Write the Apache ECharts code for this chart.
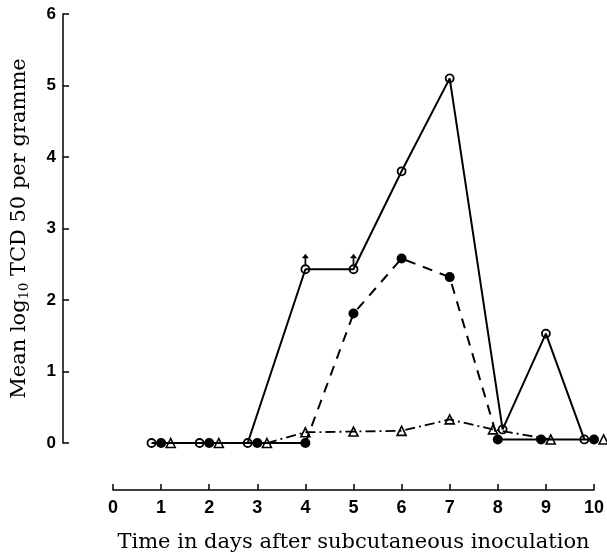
<!DOCTYPE html>
<html><head><meta charset="utf-8">
<script src="https://cdn.jsdelivr.net/npm/echarts@6/dist/echarts.min.js"></script>
<style>html,body{margin:0;padding:0;background:#fff}#c{width:607px;height:558px}</style>
</head><body><div id="c"></div>
<script>
// Open circles (solid line)
const openX = [0.8, 1.8, 2.8, 4, 5, 6, 7, 8.1, 9, 9.8];
const openY = [0, 0, 0, 2.43, 2.43, 3.8, 5.1, 0.19, 1.53, 0.05];
// Filled circles (dashed line during rise)
const filledX = [1, 2, 3, 4, 5, 6, 7, 8, 8.9, 10];
const filledY = [0, 0, 0, 0, 1.81, 2.58, 2.32, 0.05, 0.05, 0.05];
// Open triangles (dash-dot line)
const triX = [1.2, 2.2, 3.2, 4, 5, 6, 7, 7.9, 9.1, 10.2];
const triY = [0, 0, 0, 0.15, 0.16, 0.17, 0.33, 0.19, 0.05, 0.05];
// Open-circle points marked with "greater than" arrows
const arrowIdx = [3, 4];
const xTicks = [0, 1, 2, 3, 4, 5, 6, 7, 8, 9, 10];
const yTicks = [0, 1, 2, 3, 4, 5, 6];

const pts = (xs, ys, a, b) => xs.map((x, i) => [x, ys[i]]).slice(a, b);
const black = '#000';
const lineBase = { type: 'line', symbol: 'none', clip: false, silent: true, animation: false };

const chart = echarts.init(document.getElementById('c'));
chart.setOption({
  animation: false,
  grid: { left: 113, right: 12, top: 14, bottom: 114 },
  xAxis: {
    type: 'value', min: xTicks[0], max: xTicks[xTicks.length - 1], interval: 1, offset: 47,
    axisLine: { onZero: false, lineStyle: { color: black, width: 1.5 } },
    axisTick: { inside: true, length: 6, lineStyle: { color: black, width: 1.5 } },
    splitLine: { show: false },
    axisLabel: { color: black, fontWeight: 'bold', fontSize: 18, fontFamily: 'Liberation Sans', margin: 9 },
    name: 'Time in days after subcutaneous inoculation', nameLocation: 'middle', nameGap: 42,
    nameTextStyle: { color: black, fontSize: 21, fontFamily: 'DejaVu Serif' }
  },
  yAxis: {
    type: 'value', min: yTicks[0], max: yTicks[yTicks.length - 1], interval: 1, offset: 50,
    axisLine: { show: true, onZero: false, lineStyle: { color: black, width: 1.5 } },
    axisTick: { show: true, inside: true, length: 6, lineStyle: { color: black, width: 1.5 } },
    splitLine: { show: false },
    axisLabel: { color: black, fontWeight: 'bold', fontSize: 17, fontFamily: 'Liberation Sans', margin: 7 },
    name: '{a|Mean log}{s|10}{a| TCD 50 per gramme}', nameLocation: 'middle', nameGap: 32,
    nameTextStyle: {
      rich: {
        a: { color: black, fontSize: 21, fontFamily: 'DejaVu Serif' },
        s: { color: black, fontSize: 13, fontFamily: 'DejaVu Serif', padding: [10, 0, 0, 0] }
      }
    }
  },
  series: [
    Object.assign({}, lineBase, { data: pts(filledX, filledY, 0, 4), lineStyle: { color: black, width: 2 } }),
    Object.assign({}, lineBase, { data: pts(filledX, filledY, 3, 8), lineStyle: { color: black, width: 2, type: [10, 8] } }),
    Object.assign({}, lineBase, { data: pts(filledX, filledY, 7, 10), lineStyle: { color: black, width: 2 } }),
    Object.assign({}, lineBase, { data: pts(triX, triY, 2, 9), lineStyle: { color: black, width: 1.8, type: [10, 4, 2, 4] } }),
    Object.assign({}, lineBase, { data: pts(openX, openY, 0, 10), lineStyle: { color: black, width: 2 } }),
    { type: 'scatter', clip: false, silent: true, data: pts(filledX, filledY, 0, 10), symbol: 'circle', symbolSize: 10,
      itemStyle: { color: black, opacity: 1 } },
    { type: 'scatter', clip: false, silent: true, data: pts(triX, triY, 0, 10), symbol: 'triangle', symbolSize: 9,
      itemStyle: { color: '#fff', borderColor: black, borderWidth: 1.6, opacity: 1 } },
    { type: 'scatter', clip: false, silent: true, data: pts(openX, openY, 0, 10), symbol: 'circle', symbolSize: 8,
      itemStyle: { color: '#fff', borderColor: black, borderWidth: 1.8, opacity: 1 } },
    { type: 'scatter', clip: false, silent: true, data: arrowIdx.map(i => [openX[i], openY[i]]),
      symbol: 'path://M4,0 L8,5 L5,5 L5,12 L3,12 L3,5 L0,5 Z', symbolSize: [7, 11], symbolOffset: [0, -10],
      itemStyle: { color: black, opacity: 1 } }
  ]
});
</script></body></html>
